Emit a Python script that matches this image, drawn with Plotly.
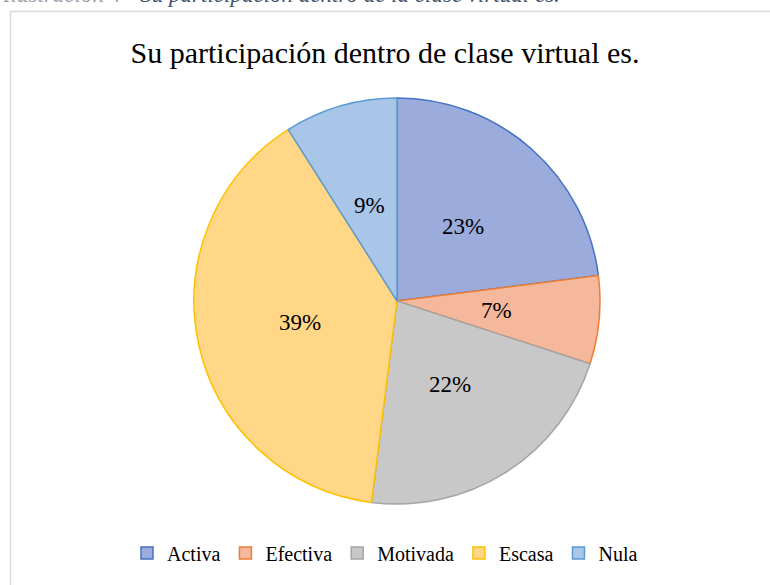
import math
import plotly.graph_objects as go

categories = ["Activa", "Efectiva", "Motivada", "Escasa", "Nula"]
values = [23, 7, 22, 39, 9]
fill_colors = ["#9aabdc", "#f5b89d", "#c8c8c8", "#ffd787", "#a9c5e7"]
line_colors = ["#4472c4", "#ed7d31", "#a5a5a5", "#ffc000", "#5b9bd5"]

W, H = 770, 585
cx, cy, r = 397, 301, 203

fig = go.Figure(go.Pie(
    labels=categories,
    values=values,
    sort=False,
    direction="clockwise",
    rotation=0,
    textinfo="none",
    marker=dict(colors=fill_colors, line=dict(color=line_colors, width=1.5)),
    domain=dict(x=[(cx - r) / W, (cx + r) / W], y=[(H - cy - r) / H, (H - cy + r) / H]),
    hoverinfo="label+percent",
))

# percentage labels placed along each slice's bisector (Excel "best fit" style)
total = sum(values)
annotations = []
cum = 0
for v in values:
    mid = (cum + v / 2) / total * 2 * math.pi
    cum += v
    px = cx + 0.49 * r * math.sin(mid)
    py = cy - 0.49 * r * math.cos(mid)
    annotations.append(dict(text=f"{round(v / total * 100)}%", xref="paper", yref="paper",
                            x=px / W, y=1 - py / H, xanchor="center", yanchor="middle",
                            showarrow=False,
                            font=dict(family="Liberation Serif", size=23, color="#000000")))

annotations.append(dict(
    text='<span style="color:#9aa3ad">Ilustración 4</span> - Su participación dentro de la clase virtual es.',
    xref="paper", yref="paper", x=0, xanchor="left", y=1, yanchor="bottom",
    yshift=-9, showarrow=False,
    font=dict(family="Liberation Serif", size=23, color="#44546a", style="italic")))

fig.update_layout(
    width=W, height=H,
    margin=dict(l=0, r=0, t=0, b=0),
    paper_bgcolor="white",
    title=dict(text="Su participación dentro de clase virtual es.",
               x=0.5, xanchor="center", y=1 - 52 / H, yanchor="middle",
               font=dict(family="Liberation Serif", size=30, color="#000000")),
    legend=dict(orientation="h", x=0.5, xanchor="center", y=1 - 553 / H, yanchor="middle",
                font=dict(family="Liberation Serif", size=20, color="#000000"),
                itemwidth=30, traceorder="normal"),
    shapes=[dict(type="rect", xref="paper", yref="paper",
                 x0=10.5 / W, x1=1.02, y0=-0.02, y1=1 - 11.5 / H,
                 line=dict(color="#d9d9d9", width=1.5), fillcolor="rgba(0,0,0,0)")],
    annotations=annotations,
)

fig.write_html("out.html", config={"displayModeBar": False},
               post_script="document.body.style.margin='0px';")
